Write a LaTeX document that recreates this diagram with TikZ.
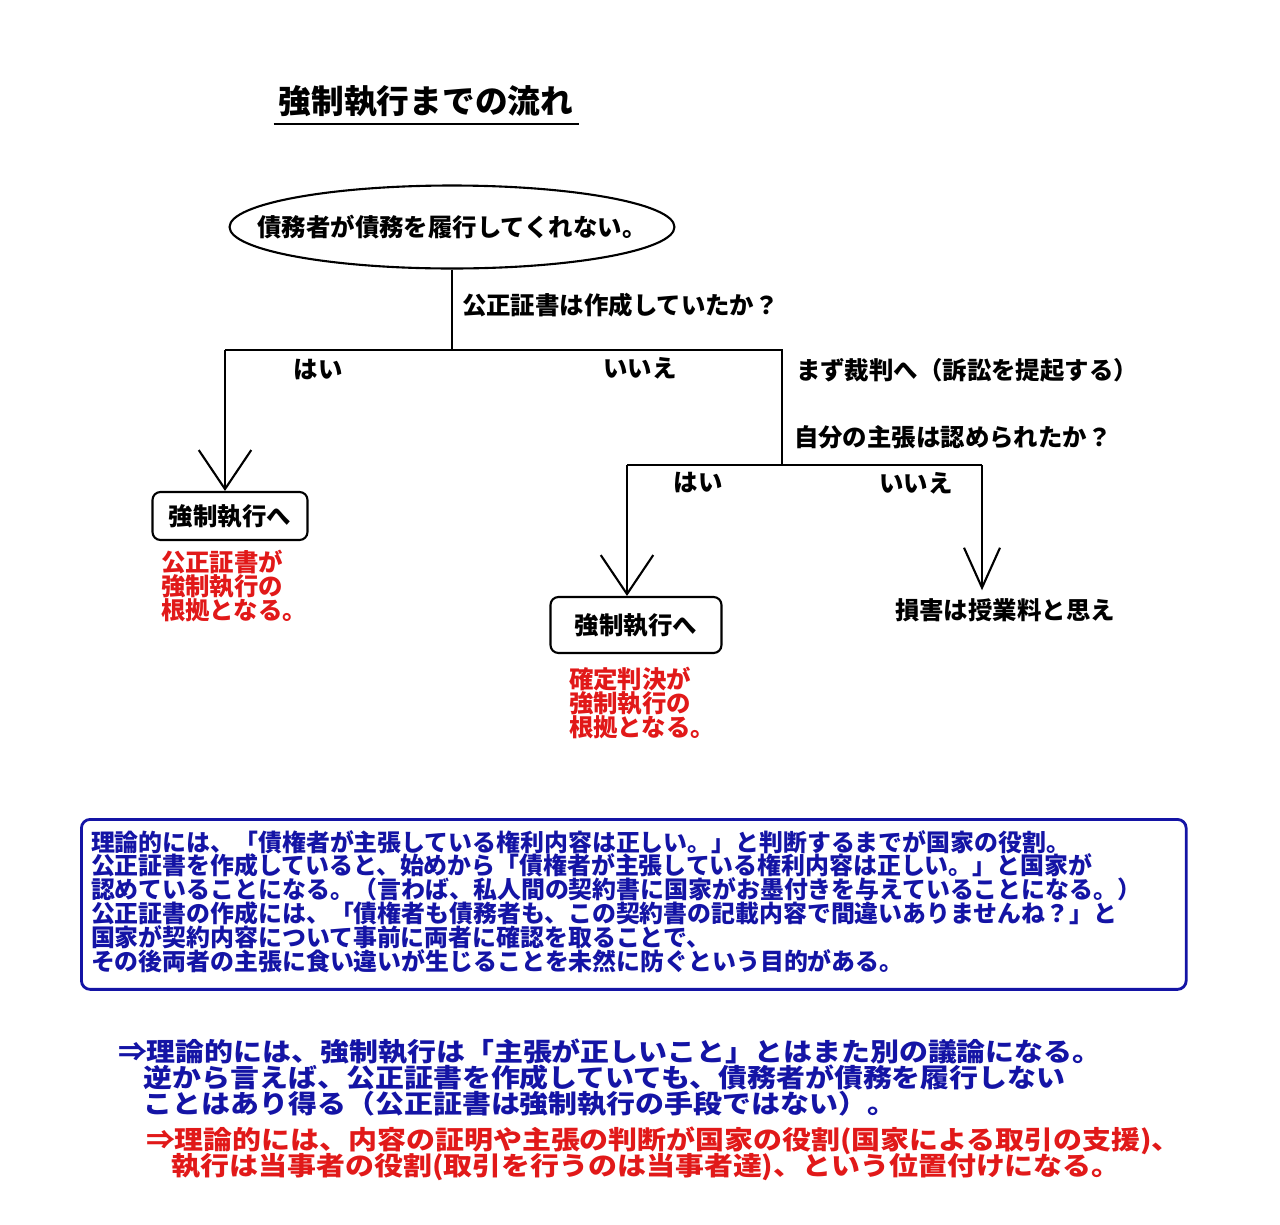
\documentclass[tikz,border=0pt]{standalone}
\usepackage{fontspec}
\setmainfont{Noto Sans CJK JP}
\newfontfamily\widejp{Noto Sans CJK JP}[FakeStretch=1.12]
\usetikzlibrary{arrows.meta,shapes.geometric}
\definecolor{navy}{RGB}{20,20,165}
\definecolor{redtxt}{RGB}{225,25,25}
\def\ttl{\fontsize{18.6pt}{18.6pt}\selectfont\bfseries}
\def\lab{\fontsize{13.9pt}{13.9pt}\selectfont\bfseries}
\def\note{\fontsize{13.9pt}{13.6pt}\selectfont\lineskiplimit=-20pt\bfseries}
\def\memo{\fontsize{13.6pt}{13.6pt}\selectfont\lineskiplimit=-20pt\bfseries}
\def\concl{\widejp\fontsize{14.7pt}{14.7pt}\selectfont\lineskiplimit=-20pt\bfseries}
\tikzset{
  stepbox/.style={draw,rounded corners=4.5pt,line width=1.2pt,inner sep=0pt},
  vee/.style={-{Straight Barb[length=0.78cm,width=1.05cm]}},
}
\begin{document}
\begin{tikzpicture}[x=0.02cm,y=-0.02cm,line width=1.2pt]
  \useasboundingbox (0,0) rectangle (1280,1224);
  % title
  \node[anchor=south,inner xsep=2.5pt,inner ysep=3pt] (title) at (426,124) {\ttl 強制執行までの流れ};
  \draw[line width=1.7pt] (title.south west) -- (title.south east);
  % start
  \node[ellipse,draw,minimum width=8.9cm,minimum height=1.66cm,inner sep=0pt] (trouble) at (452,227) {};
  \node (troubletext) at (trouble.center) {\lab 債務者が債務を履行してくれない。};
  \coordinate (split1) at (452,350);
  \coordinate (yes1) at (225,350);
  \coordinate (no1) at (782,350);
  \coordinate (split2) at (782,465);
  \coordinate (yes2) at (627,465);
  \coordinate (no2) at (982,465);
  % boxes
  \node[stepbox,minimum width=3.1cm,minimum height=0.96cm] (exec1) at (230,516) {\lab 強制執行へ};
  \node[stepbox,minimum width=3.42cm,minimum height=1.12cm] (exec2) at (636,625) {\lab 強制執行へ};
  \node[inner sep=4pt] (loss) at (1005,610) {\lab 損害は授業料と思え};
  % lines
  \draw (trouble.south) -- (split1);
  \draw (yes1) -- (no1) -- (split2);
  \draw[vee] (yes1) -- (yes1 |- exec1.north);
  \draw (yes2) -- (no2);
  \draw[vee] (yes2) -- (yes2 |- exec2.north);
  \draw[-{Straight Barb[length=0.8cm,width=0.72cm]}] (no2) -- (no2 |- loss.north);
  % labels
  \node[anchor=west,inner sep=0pt] (q1) at (461,305) {\lab 公正証書は作成していたか？};
  \node (yes1lab) at (318,370) {\lab はい};
  \node (no1lab) at (640,368) {\lab いいえ};
  \node[anchor=west,inner sep=0pt] (court) at (795,370) {\lab まず裁判へ（訴訟を提起する）};
  \node[anchor=west,inner sep=0pt] (q2) at (793,437) {\lab 自分の主張は認められたか？};
  \node (yes2lab) at (698,483) {\lab はい};
  \node (no2lab) at (916,483) {\lab いいえ};
  % red notes
  \node[anchor=north west,inner sep=0pt,align=left,text=redtxt,font=\note] (basis1) at (160,549)
    {公正証書が\\強制執行の\\根拠となる。};
  \node[anchor=north west,inner sep=0pt,align=left,text=redtxt,font=\note] (basis2) at (568,666)
    {確定判決が\\強制執行の\\根拠となる。};
  % memo
  \node[draw=navy,line width=1.6pt,rounded corners=5pt,minimum width=22.1cm,minimum height=3.4cm,
    anchor=north west,inner sep=0pt] (memo) at (80,818) {};
  \node[anchor=north west,inner sep=0pt,align=left,text=navy,font=\memo] (memotext) at (90,829)
    {理論的には、「債権者が主張している権利内容は正しい。」と判断するまでが国家の役割。\\
     公正証書を作成していると、始めから「債権者が主張している権利内容は正しい。」と国家が\\
     認めていることになる。（言わば、私人間の契約書に国家がお墨付きを与えていることになる。）\\
     公正証書の作成には、「債権者も債務者も、この契約書の記載内容で間違いありませんね？」と\\
     国家が契約内容について事前に両者に確認を取ることで、\\
     その後両者の主張に食い違いが生じることを未然に防ぐという目的がある。};
  % conclusion
  \node[anchor=north west,inner sep=0pt,align=left,text=navy,font=\concl] (concl1) at (117,1038)
    {⇒理論的には、強制執行は「主張が正しいこと」とはまた別の議論になる。\\
     \hspace*{1em}逆から言えば、公正証書を作成していても、債務者が債務を履行しない\\
     \hspace*{1em}ことはあり得る（公正証書は強制執行の手段ではない）。};
  \node[anchor=north west,inner sep=0pt,align=left,text=redtxt,font=\concl] (concl2) at (145,1126)
    {⇒理論的には、内容の証明や主張の判断が国家の役割(国家による取引の支援)、\\
     \hspace*{1em}執行は当事者の役割(取引を行うのは当事者達)、という位置付けになる。};
\end{tikzpicture}
\end{document}
